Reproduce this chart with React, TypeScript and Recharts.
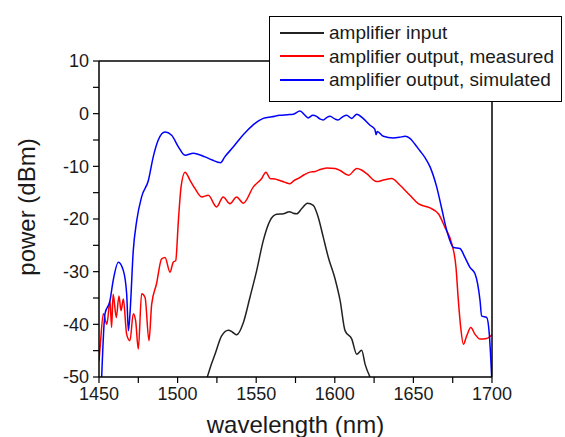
import { LineChart, Line, XAxis, YAxis, Legend, Label } from "recharts";

// wavelength (nm) / power (dBm)
const inputWl = [
  1518.9, 1521, 1523.8, 1528, 1532.3, 1535, 1537.6, 1541.8, 1546, 1550.3, 1554.5, 1558.8, 1563, 1567.3,
  1571.1, 1573.5, 1575.8, 1579, 1582.6, 1586.3, 1589.5, 1592.7, 1595.9, 1600.2, 1603.4, 1606.5, 1610.8,
  1614, 1617.1, 1619.3, 1622.4,
];
const inputDb = [
  -50, -48, -45.7, -42.2, -41.1, -41.5, -42, -39.7, -34.9, -29.8, -24.1, -20.3, -19.1, -19, -18.6, -18.9,
  -19, -18, -17, -17.4, -19.7, -23.5, -27.3, -31.4, -35.5, -41.2, -42.8, -45.7, -44.9, -47.6, -50,
];

const measuredWl = [
  1450, 1450.8, 1452.8, 1455, 1457, 1458, 1459, 1461, 1462.7, 1464, 1465.5, 1467.6, 1469.7, 1471.8, 1473.3,
  1475, 1477.1, 1479.3, 1481.8, 1483.5, 1486.6, 1489.8, 1492, 1495.2, 1497.2, 1498.8, 1500.5, 1502.2,
  1504.7, 1508, 1511, 1515.3, 1519.5, 1524.8, 1529, 1533.3, 1537.5, 1541.8, 1548.2, 1553.5, 1556.2, 1558.8,
  1562, 1565, 1568, 1571.5, 1574, 1576.8, 1580.5, 1584.2, 1587.5, 1590.6, 1594.9, 1600.2, 1603.4, 1608.7,
  1614, 1617, 1620.3, 1626.6, 1631, 1636.2, 1641.5, 1647.8, 1653.1, 1660.6, 1665.9, 1670.1, 1674.4, 1677.1,
  1678.6, 1680.1, 1681.8, 1683.9, 1686.5, 1689.2, 1692.4, 1696.6, 1700,
];
const measuredDb = [
  -47, -44, -38, -40, -35.5, -40.6, -34.3, -38.7, -34.6, -37.4, -35.2, -41.9, -43.1, -38, -39.3, -44.7,
  -34.2, -34.9, -43.1, -36.2, -32.3, -27.6, -27.3, -30.1, -28.2, -27.9, -20.3, -13.9, -11.1, -12.7, -14.2,
  -15.8, -15.5, -17.7, -15.8, -17.1, -15.8, -17, -13.9, -12.3, -11.1, -12.3, -12.4, -12.7, -13, -13.3,
  -12.7, -12.3, -11.6, -11.1, -11, -10.6, -10.3, -10.4, -10.8, -11.7, -10.4, -10.7, -11.4, -12.9, -12.6,
  -12.3, -13.6, -15.5, -17.1, -17.9, -19, -21.6, -24.7, -29.2, -35.5, -40.6, -43.8, -42.2, -40.6, -41.9,
  -42.8, -42.7, -42,
];

const simulatedWl = [
  1451.7, 1453.8, 1457, 1459, 1462.3, 1465.5, 1467.6, 1468.7, 1469.7, 1471.8, 1474, 1477.1, 1481.4, 1484.5,
  1487.7, 1492, 1496.2, 1500.5, 1504.7, 1510, 1517.4, 1522, 1527.3, 1530, 1535.5, 1540, 1544, 1549,
  1554.5, 1560, 1565, 1570, 1573.6, 1577.9, 1581, 1583, 1586, 1588.4, 1590.5, 1592.7, 1595, 1597, 1600,
  1602, 1605, 1607.5, 1610.7, 1614, 1618, 1622.4, 1625.5, 1626.3, 1627, 1630.9, 1637, 1641, 1644.7,
  1647.8, 1651, 1654, 1657.5, 1660.6, 1664.8, 1668, 1671.5, 1675.5, 1679.6, 1682.8, 1686, 1689.2, 1692.4,
  1693.4, 1696.6, 1698.3, 1699.8,
];
const simulatedDb = [
  -50, -38, -35.5, -31.7, -28.2, -29.8, -34.2, -41.2, -38, -26, -20.3, -15.8, -12.7, -8.2, -5, -3.5, -4.1,
  -6.3, -7.9, -7.5, -8.2, -8.8, -9.3, -8.2, -6.3, -4.6, -3.3, -1.9, -0.9, -0.6, -0.3, -0.2, -0.1, 0.5,
  -0.3, -0.8, -0.3, -0.5, -1, -1.2, -0.7, -0.5, -1, -1.2, -0.6, -0.3, -0.9, -0.1, -0.9, -2.2, -3, -4,
  -3.4, -4.3, -4.6, -4.5, -4.3, -4.7, -5.8, -7, -8.4, -10.1, -13.9, -18, -22.5, -25.4, -25.6, -27.3,
  -29.2, -30.4, -35.5, -38.4, -38.7, -41.9, -50,
];

const xTicks = [1450, 1475, 1500, 1525, 1550, 1575, 1600, 1625, 1650, 1675, 1700];
const yTicks = [-50, -45, -40, -35, -30, -25, -20, -15, -10, -5, 0, 5, 10];

const SERIES = [
  { name: "amplifier input", color: "#222222", wl: inputWl, db: inputDb },
  { name: "amplifier output, measured", color: "#ff0000", wl: measuredWl, db: measuredDb },
  { name: "amplifier output, simulated", color: "#0000ff", wl: simulatedWl, db: simulatedDb },
];

const FONT = "'Liberation Sans', Arial, sans-serif";
const tickStyle = { fontSize: 18, fill: "#1a1a1a", fontFamily: FONT };
const axisLine = { stroke: "#000", strokeWidth: 1.5 };
const tickLine = { stroke: "#000", strokeWidth: 1.2 };

function LegendBox() {
  return (
    <div
      style={{
        width: 291,
        height: 80,
        border: "1.5px solid #000",
        background: "#fff",
        fontFamily: FONT,
        fontSize: 19,
        color: "#1a1a1a",
        paddingTop: 4,
        boxSizing: "content-box",
      }}
    >
      {SERIES.map((s) => (
        <div key={s.name} style={{ display: "flex", alignItems: "center", height: 23.5 }}>
          <span style={{ display: "inline-block", width: 44, height: 2, marginLeft: 10, background: s.color }} />
          <span style={{ marginLeft: 5, lineHeight: "23px" }}>{s.name}</span>
        </div>
      ))}
    </div>
  );
}

function YTitle() {
  return (
    <text
      x={26}
      y={207}
      transform="rotate(-90 26 207)"
      textAnchor="middle"
      dominantBaseline="central"
      style={{ fontSize: 24, fill: "#1a1a1a", fontFamily: FONT }}
    >
      power (dBm)
    </text>
  );
}

export default function App() {
  return (
    <div style={{ position: "absolute", left: 0, top: 0, background: "#fff" }}>
      <LineChart width={565} height={437} margin={{ top: 61, right: 73, bottom: 0, left: 0 }}>
        <XAxis
          type="number"
          dataKey="x"
          domain={[1450, 1700]}
          ticks={xTicks}
          allowDataOverflow
          height={60}
          tickSize={6}
          tickMargin={4}
          tick={tickStyle}
          tickFormatter={(v: number) => (v % 50 === 0 ? String(v) : "")}
          axisLine={axisLine}
          tickLine={tickLine}
        >
          <Label
            value="wavelength (nm)"
            position="insideBottom"
            offset={4}
            style={{ fontSize: 24, fill: "#1a1a1a", fontFamily: FONT }}
          />
        </XAxis>
        <XAxis
          xAxisId="top"
          orientation="top"
          type="number"
          domain={[1450, 1700]}
          ticks={xTicks}
          allowDataOverflow
          mirror
          height={1}
          tick={false}
          tickSize={6}
          axisLine={axisLine}
          tickLine={tickLine}
        />
        <YAxis
          type="number"
          domain={[-50, 10]}
          ticks={yTicks}
          allowDataOverflow
          width={99}
          tickSize={6}
          tickMargin={4}
          tick={tickStyle}
          tickFormatter={(v: number) => (v % 10 === 0 ? String(v) : "")}
          axisLine={axisLine}
          tickLine={tickLine}
        >
          <Label content={() => <YTitle />} />
        </YAxis>
        <YAxis
          yAxisId="right"
          orientation="right"
          type="number"
          domain={[-50, 10]}
          ticks={yTicks}
          allowDataOverflow
          mirror
          width={1}
          tick={false}
          tickSize={6}
          axisLine={axisLine}
          tickLine={tickLine}
        />
        {SERIES.map((s) => (
          <Line
            key={s.name}
            name={s.name}
            data={s.wl.map((x, i) => ({ x, y: s.db[i] }))}
            dataKey="y"
            type="monotone"
            stroke={s.color}
            strokeWidth={1.5}
            dot={false}
            activeDot={false}
            isAnimationActive={false}
          />
        ))}
        <Legend
          layout="vertical"
          align="center"
          verticalAlign="middle"
          wrapperStyle={{ left: 269, top: 16, width: 294 }}
          content={() => <LegendBox />}
        />
      </LineChart>
    </div>
  );
}
